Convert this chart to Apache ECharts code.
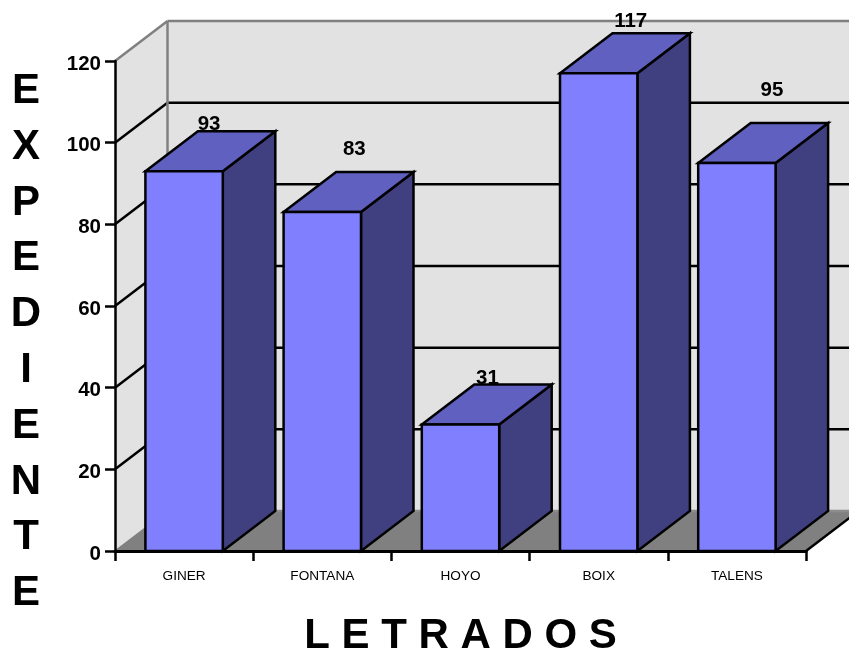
<!DOCTYPE html>
<html><head><meta charset="utf-8">
<style>html,body{margin:0;padding:0;background:#fff}#c{width:849px;height:653px}</style>
<script src="https://cdn.jsdelivr.net/npm/echarts@6/dist/echarts.min.js"></script>
</head><body><div id="c"></div>
<script>
const categories = ['GINER', 'FONTANA', 'HOYO', 'BOIX', 'TALENS'];
const values = [93, 83, 31, 117, 95];
const yTicks = [0, 20, 40, 60, 80, 100, 120];
const yTitle = 'EXPEDIENTE';
const xTitle = 'L E T R A D O S';

// oblique projection of the depth axis, in pixels
const DX = 52.5, DY = -40;
const BAR_RATIO = 0.56;
const FONT = '"Liberation Sans", Arial, sans-serif';
// how far each value label sits from the top-centre of its bar's front face
const labelShift = [[25, -47], [32, -63], [27, -46], [32, -52], [35, -73]];

function poly(points, fill, stroke, lw) {
  return { type: 'polygon', shape: { points }, style: { fill, stroke: stroke || null, lineWidth: lw || 0, lineJoin: 'miter' } };
}
function line(a, b, stroke, lw) {
  return { type: 'line', shape: { x1: a[0], y1: a[1], x2: b[0], y2: b[1] }, style: { stroke, lineWidth: lw } };
}

function renderRoom(params, api) {
  const cs = params.coordSys;
  const L = cs.x, R = cs.x + cs.width;
  const bottom = api.coord([0, 0])[1], top = api.coord([0, yTicks[yTicks.length - 1]])[1];
  const children = [
    poly([[L, bottom], [L + DX, bottom + DY], [L + DX, top + DY], [L, top]], '#e2e2e2'),
    poly([[L + DX, bottom + DY], [R + DX, bottom + DY], [R + DX, top + DY], [L + DX, top + DY]], '#e2e2e2'),
    poly([[L, bottom], [R, bottom], [R + DX, bottom + DY], [L + DX, bottom + DY]], '#808080')
  ];
  yTicks.slice(1, -1).forEach(t => {
    const y = api.coord([0, t])[1];
    children.push(line([L, y], [L + DX, y + DY], '#000', 2.5));
    children.push(line([L + DX, y + DY], [R + DX, y + DY], '#000', 2.5));
  });
  children.push(line([L, top], [L + DX, top + DY], '#808080', 2.5));
  children.push(line([L + DX, top + DY], [R + DX, top + DY], '#808080', 2.5));
  children.push(line([L + DX, top + DY], [L + DX, bottom + DY], '#808080', 2.5));
  children.push(line([L + DX, bottom + DY], [R + DX, bottom + DY], '#8c8c8c', 2.5));
  children.push(line([L, bottom], [L + DX, bottom + DY], '#808080', 1.5));
  children.push(line([R, bottom], [R + DX, bottom + DY], '#000', 2.5));
  return { type: 'group', children };
}

function renderBar(params, api) {
  const i = api.value(0), v = api.value(1);
  const base = api.coord([i, 0]), tip = api.coord([i, v]);
  const w = api.size([1, 0])[0] * BAR_RATIO;
  const l = base[0] - w / 2, r = base[0] + w / 2, b = base[1], t = tip[1];
  const shift = labelShift[params.dataIndex];
  return { type: 'group', children: [
    poly([[r, b], [r + DX, b + DY], [r + DX, t + DY], [r, t]], '#404080', '#000', 2.5),
    poly([[l, t], [r, t], [r + DX, t + DY], [l + DX, t + DY]], '#6060c0', '#000', 2.5),
    poly([[l, b], [r, b], [r, t], [l, t]], '#8080ff', '#000', 2.5),
    { type: 'text', z2: 10, style: {
      x: base[0] + shift[0], y: t + shift[1], text: String(v), fill: '#000',
      font: 'bold 20.5px ' + FONT, align: 'center', verticalAlign: 'middle' } }
  ] };
}

const chart = echarts.init(document.getElementById('c'), null, { renderer: 'canvas' });
chart.setOption({
  animation: false,
  backgroundColor: '#fff',
  grid: { left: 115, right: 43, top: 61, bottom: 102, containLabel: false, outerBoundsMode: 'none' },
  graphic: [{
    type: 'text', x: 26, y: 342.5, z: 10,
    style: { text: yTitle.split('').join('\n'), fill: '#000', font: 'bold 42px ' + FONT,
      lineHeight: 55.8, align: 'center', verticalAlign: 'middle' }
  }],
  xAxis: {
    type: 'category', data: categories, z: 5,
    name: xTitle, nameLocation: 'middle', nameGap: 64,
    nameTextStyle: { color: '#000', fontFamily: FONT, fontWeight: 'bold', fontSize: 42 },
    axisLine: { lineStyle: { color: '#000', width: 3 } },
    axisTick: { show: true, alignWithLabel: false, length: 10, lineStyle: { color: '#000', width: 2.5 } },
    axisLabel: { show: true, color: '#000', fontFamily: FONT, fontSize: 13.6, margin: 18, interval: 0 }
  },
  yAxis: {
    type: 'value', min: 0, max: 120, interval: 20, z: 5,
    axisLine: { show: true, lineStyle: { color: '#000', width: 2.5 } },
    axisTick: { show: true, length: 10, lineStyle: { color: '#000', width: 2.5 } },
    axisLabel: { color: '#000', fontFamily: FONT, fontWeight: 'bold', fontSize: 20.5, margin: 14, verticalAlign: 'top', lineHeight: 6 },
    splitLine: { show: false }
  },
  series: [
    { type: 'custom', name: 'room', z: 1, silent: true, clip: false, renderItem: renderRoom, data: [[0, 0]] },
    { type: 'custom', name: 'EXPEDIENTE', z: 3, clip: false, renderItem: renderBar,
      data: categories.map((c, i) => [i, values[i]]), encode: { x: 0, y: 1 } }
  ]
});
</script></body></html>
